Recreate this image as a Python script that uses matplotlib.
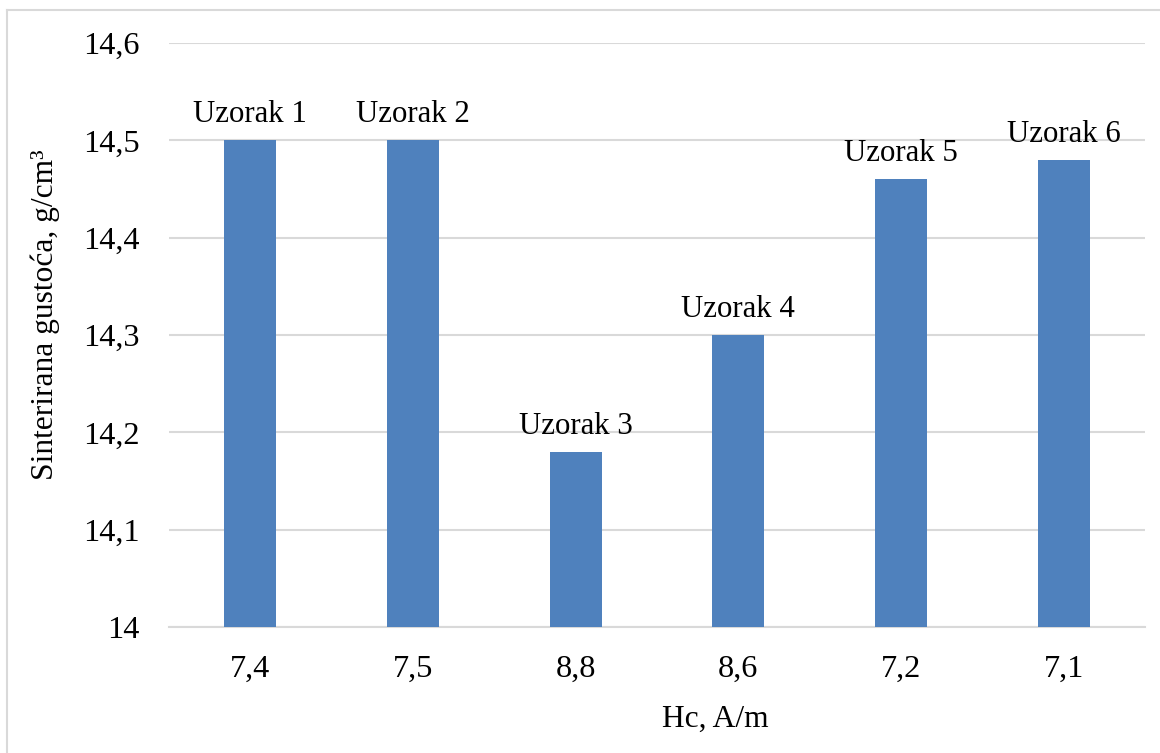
import matplotlib.pyplot as plt
import numpy as np

plt.rcParams['font.family'] = ['Liberation Serif', 'DejaVu Serif']

hc_labels = ['7,4', '7,5', '8,8', '8,6', '7,2', '7,1']
density = [14.5, 14.5, 14.18, 14.3, 14.46, 14.48]
sample_names = ['Uzorak 1', 'Uzorak 2', 'Uzorak 3', 'Uzorak 4', 'Uzorak 5', 'Uzorak 6']
y_ticks = [14.0, 14.1, 14.2, 14.3, 14.4, 14.5, 14.6]
y_tick_labels = ['14', '14,1', '14,2', '14,3', '14,4', '14,5', '14,6']

fig = plt.figure(figsize=(11.6, 7.53), dpi=100)
ax = fig.add_axes([169/1160, 1 - 627/753, (1145 - 169)/1160, (627 - 43)/753])

x = np.arange(len(density))
ax.bar(x, np.array(density) - 14.0, bottom=14.0, width=0.32, color='#4F81BD', zorder=3)

for xi, v, name in zip(x, density, sample_names):
    ax.annotate(name, (xi, v), xytext=(0, 8), textcoords='offset points',
                ha='center', va='bottom', fontsize=22.2)

ax.set_xlim(-0.5, len(density) - 0.5)
ax.set_ylim(14.0, 14.6)
ax.set_yticks(y_ticks)
ax.set_yticklabels(y_tick_labels)
ax.set_xticks(x)
ax.set_xticklabels(hc_labels)
ax.tick_params(axis='both', length=0, labelsize=23.3)
ax.tick_params(axis='y', pad=21)
ax.tick_params(axis='x', pad=20)
ax.grid(axis='y', color='#D9D9D9', linewidth=1.5, zorder=0)
for s in ['top', 'right', 'left']:
    ax.spines[s].set_visible(False)
ax.spines['bottom'].set_color('#D9D9D9')
ax.spines['bottom'].set_linewidth(1.5)

fig.text(45/1160, 1 - 315/753, 'Sinterirana gustoća, g/cm³', rotation=90,
         ha='center', va='center', fontsize=22.7)
fig.text(715/1160, 1 - 719/753, 'Hc, A/m', ha='center', va='center', fontsize=22.7)

# chart border (only top and left visible in the image)
fig.add_artist(plt.Line2D([7/1160, 7/1160], [0, 1 - 10/753], color='#D9D9D9', lw=1.5))
fig.add_artist(plt.Line2D([7/1160, 1], [1 - 10/753, 1 - 10/753], color='#D9D9D9', lw=1.5))

fig.savefig('out.png', dpi=100)
